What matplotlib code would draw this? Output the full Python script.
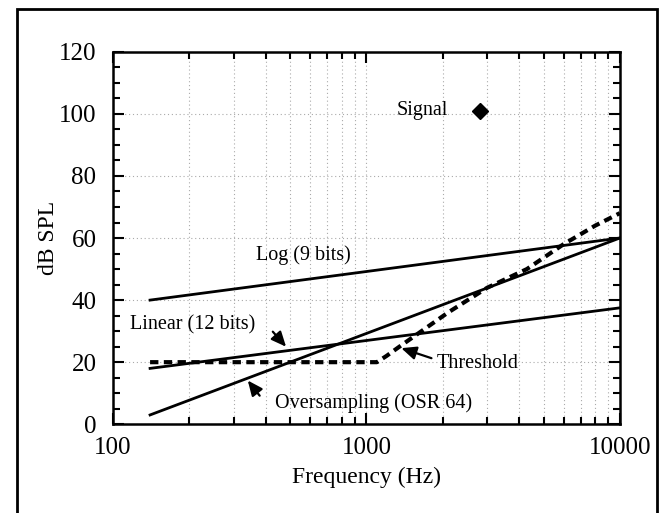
import numpy as np
import matplotlib
matplotlib.use("Agg")
import matplotlib.pyplot as plt
from matplotlib.ticker import LogLocator, MultipleLocator, FixedLocator, NullFormatter
from matplotlib.patches import Rectangle

plt.rcParams['font.family'] = ['Liberation Serif', 'DejaVu Serif']

log_f = [140, 10000]
log_db = [40, 60]
lin_f = [140, 10000]
lin_db = [18, 37.5]
osr_f = [140, 10000]
osr_db = [3, 60]
thr_f = [140, 1100, 1200, 1350, 1650, 2100, 3000, 4300, 6000, 8000, 10000]
thr_db = [20, 20, 22, 25, 30, 36, 44, 50, 58, 64, 68]
sig_f = [2800]
sig_db = [101]

fig = plt.figure(figsize=(6.65, 5.13), dpi=100)
ax = fig.add_axes([0.170, 0.173, 0.762, 0.726])

ax.plot(log_f, log_db, color='black', lw=2)
ax.plot(lin_f, lin_db, color='black', lw=2)
ax.plot(osr_f, osr_db, color='black', lw=2)
ax.plot(thr_f, thr_db, color='black', lw=3, ls=(0, (2.0, 1.3)))
ax.plot(sig_f, sig_db, marker='D', color='black', ms=8, ls='none')

ax.set_xscale('log')
ax.set_xlim(100, 10000)
ax.set_ylim(0, 120)
ax.xaxis.set_major_locator(FixedLocator([100, 1000, 10000]))
ax.xaxis.set_minor_locator(LogLocator(base=10, subs=np.arange(2, 10)))
ax.xaxis.set_minor_formatter(NullFormatter())
ax.set_xticklabels(['100', '1000', '10000'])
ax.yaxis.set_major_locator(MultipleLocator(20))
ax.yaxis.set_minor_locator(MultipleLocator(5))

ax.tick_params(which='both', direction='in', top=True, right=True, labelsize=18, width=1.5)
ax.tick_params(which='major', length=8)
ax.tick_params(which='minor', length=5)
ax.tick_params(axis='x', pad=9)
ax.tick_params(axis='y', pad=12)
for s in ax.spines.values():
    s.set_linewidth(1.8)

ax.grid(True, which='major', axis='both', ls=(0, (1, 2.5)), color='#aaaaaa', lw=0.8)
ax.grid(True, which='minor', axis='x', ls=(0, (1, 2.5)), color='#aaaaaa', lw=0.8)

ax.set_xlabel('Frequency (Hz)', fontsize=17, labelpad=6)
ax.set_ylabel('dB SPL', fontsize=17, labelpad=0)

fs = 14.5
ax.text(2100, 101, 'Signal', fontsize=fs, ha='right', va='center')
ax.text(562, 54.5, 'Log (9 bits)', fontsize=fs, ha='center', va='center')
ax.text(207, 32, 'Linear (12 bits)', fontsize=fs, ha='center', va='center')
ax.text(2750, 19.6, 'Threshold', fontsize=fs, ha='center', va='center')
ax.text(1071, 6.7, 'Oversampling (OSR 64)', fontsize=fs, ha='center', va='center')

ap = dict(arrowstyle='-|>,head_length=0.9,head_width=0.4', color='black', lw=1.6)
ax.annotate('', xy=(490, 24.3), xytext=(420, 30.5), arrowprops=ap)
ax.annotate('', xy=(335, 14.8), xytext=(385, 8.5), arrowprops=ap)
ax.annotate('', xy=(1340, 24.8), xytext=(1850, 21.0), arrowprops=ap)

fig.patches.append(Rectangle((17/665, -0.02), 640/665, (513-9)/513 + 0.02,
                             transform=fig.transFigure, fill=False, lw=2, color='black'))

fig.savefig('out.png', dpi=100)
